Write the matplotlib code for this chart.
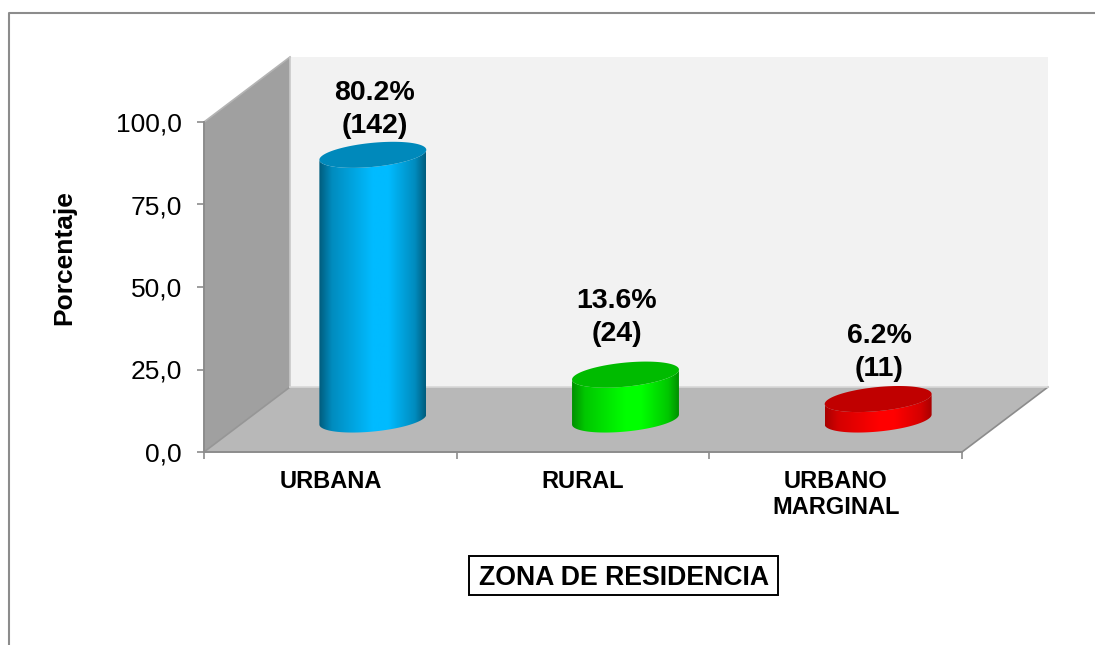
import matplotlib
matplotlib.use("Agg")
import matplotlib.pyplot as plt
import numpy as np
from matplotlib.colors import LinearSegmentedColormap, to_rgb
from matplotlib.lines import Line2D
from matplotlib.patches import Polygon, Rectangle

plt.rcParams['font.family'] = ['Liberation Sans', 'DejaVu Sans']

categories = ['URBANA', 'RURAL', 'URBANO\nMARGINAL']
percentages = [80.2, 13.6, 6.2]
counts = [142, 24, 11]
y_ticks = [0, 25, 50, 75, 100]

side_colors = ['#00BBFF', '#00FF00', '#FF0000']
edge_colors = ['#005C7D', '#009000', '#A80000']
top_colors = ['#0089BB', '#00BB00', '#C00000']

W, H = 1095, 645
fig = plt.figure(figsize=(W / 100, H / 100), dpi=100, facecolor='white')
ax = fig.add_axes([204 / W, (H - 452) / H, 758 / W, 330 / H])
ax.set_xlim(0, 3)
ax.set_ylim(0, 100)
ax.patch.set_visible(False)

# pixels per data unit, the fake 3d depth is worked out from these
px_x = 758 / 3
px_y = 330 / 100
depth_x = 86 / px_x
depth_y = 65 / px_y
bar_shift = 85 / px_x / 2

# walls and floor
ax.add_patch(Polygon([(depth_x, depth_y), (3 + depth_x, depth_y), (3 + depth_x, 100 + depth_y), (depth_x, 100 + depth_y)],
                     fc='#F2F2F2', ec='none', clip_on=False, zorder=1))
ax.add_patch(Polygon([(0, 0), (depth_x, depth_y), (depth_x, 100 + depth_y), (0, 100)],
                     fc='#A0A0A0', ec='none', clip_on=False, zorder=1.1))
ax.add_patch(Polygon([(0, 0), (depth_x, depth_y), (3 + depth_x, depth_y), (3, 0)],
                     fc='#B8B8B8', ec='none', clip_on=False, zorder=1.2))
edge_kw = dict(clip_on=False, zorder=1.3, lw=1.2)
ax.plot([0, depth_x], [0, depth_y], color='#969696', **edge_kw)
ax.plot([3, 3 + depth_x], [0, depth_y], color='#8C8C8C', **edge_kw)
ax.plot([0, depth_x], [100, 100 + depth_y], color='#B4B4B4', **edge_kw)
ax.plot([depth_x, depth_x], [depth_y, 100 + depth_y], color='#C8C8C8', **edge_kw)
ax.plot([depth_x, 3 + depth_x], [depth_y, depth_y], color='#D8D8D8', **edge_kw)

# cylinders, ellipse tilted a bit like the original
a, b, tilt = 53.7, 12.0, np.radians(5.6)
t = np.linspace(0, 2 * np.pi, 200)
ex = (a * np.cos(t) * np.cos(tilt) - b * np.sin(t) * np.sin(tilt)) / px_x
ey = (a * np.cos(t) * np.sin(tilt) + b * np.sin(t) * np.cos(tilt)) / px_y
i_left = np.argmin(ex)
i_right = np.argmax(ex)

for i, pct in enumerate(percentages):
    cx = i + 0.5 + bar_shift
    base = depth_y / 2
    top = base + pct
    # lower half of the ellipse from left extreme to right extreme
    idx = np.arange(i_left, i_right + 1)
    low_x, low_y = ex[idx], ey[idx]
    side = np.concatenate([
        np.column_stack([cx + low_x, base + low_y]),
        np.column_stack([cx + low_x[::-1], top + low_y[::-1]]),
    ])
    clip = Polygon(side, transform=ax.transData, fc='none', ec='none')
    ax.add_patch(clip)
    mid = tuple((np.array(to_rgb(edge_colors[i])) + np.array(to_rgb(side_colors[i]))) / 2)
    cmap = LinearSegmentedColormap.from_list('c', [(0, edge_colors[i]), (0.12, mid), (0.5, side_colors[i]),
                                                   (0.65, side_colors[i]), (0.9, mid), (1, edge_colors[i])])
    im = ax.imshow(np.linspace(0, 1, 256).reshape(1, -1), cmap=cmap, aspect='auto', zorder=3,
                   extent=[cx + ex.min(), cx + ex.max(), 0, 100], interpolation='bilinear')
    im.set_clip_path(clip)
    ax.fill(cx + ex, top + ey, fc=top_colors[i], ec='none', zorder=4)
ax.set_xlim(0, 3)
ax.set_ylim(0, 100)

# axes
for s in ['top', 'right']:
    ax.spines[s].set_visible(False)
for s in ['left', 'bottom']:
    ax.spines[s].set_color('#8C8C8C')
    ax.spines[s].set_linewidth(1.4)
ax.set_yticks(y_ticks, [f'{v:.1f}'.replace('.', ',') for v in y_ticks], fontsize=19)
ax.set_xticks([0, 1, 2, 3], [])
ax.set_xticks([0.5, 1.5, 2.5], categories, minor=True, fontsize=17, fontweight='bold', linespacing=1.17)
ax.tick_params(axis='y', length=5, width=1.2, color='#8C8C8C', pad=11)
ax.tick_params(axis='x', which='major', length=5, width=1.2, color='#8C8C8C')
ax.tick_params(axis='x', which='minor', length=0, pad=13)

ax.set_ylabel('Porcentaje', fontsize=19, fontweight='bold')
ax.yaxis.set_label_coords((76 - 204) / 758, (452 - 258) / 330)

# value labels, not all centred on their bar in the original
label_dx = [2, -9, 1]
label_dy = [16, 28, 17]
for i, pct in enumerate(percentages):
    ax.annotate(f'{pct}%\n({counts[i]})', (i + 0.5 + bar_shift, depth_y / 2 + pct),
                xytext=(label_dx[i], label_dy[i]), textcoords='offset pixels',
                ha='center', va='bottom', fontsize=20.5, fontweight='bold', linespacing=1.35,
                annotation_clip=False, zorder=5)

# axis title box
fig.add_artist(Rectangle((469 / W, 1 - 595 / H), 309 / W, 39 / H, transform=fig.transFigure,
                         fc='white', ec='black', lw=1.4))
fig.text(624 / W, 1 - 578 / H, 'ZONA DE RESIDENCIA', fontsize=19.2, fontweight='bold', ha='center', va='center')

# outer chart frame, only top and left are in the picture
fig.add_artist(Line2D([9 / W, 9 / W, 1], [0, 1 - 13 / H, 1 - 13 / H], color='#8C8C8C', lw=1.5))

fig.savefig('out.png', dpi=100)
